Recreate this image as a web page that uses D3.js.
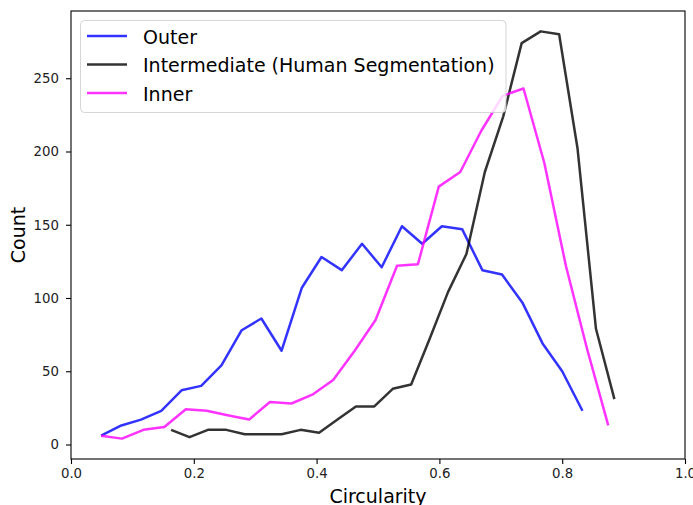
<!DOCTYPE html>
<html>
<head>
<meta charset="utf-8">
<script src="https://d3js.org/d3.v7.min.js"></script>
<style>
  body { margin: 0; background: #fff; }
  svg { display: block; font-family: "DejaVu Sans", sans-serif; }
</style>
</head>
<body>
<svg id="chart" width="693" height="505"></svg>
<script>
// bin centres (each series has its own bins)
var outerX = [0.049, 0.082, 0.114, 0.147, 0.180, 0.212, 0.245, 0.278, 0.310, 0.343, 0.376, 0.408, 0.441,
              0.474, 0.506, 0.539, 0.572, 0.604, 0.637, 0.670, 0.702, 0.735, 0.768, 0.800, 0.833];
var outerCount = [6, 13, 17, 23, 37, 40, 54, 78, 86, 64, 107, 128, 119,
                  137, 121, 149, 137, 149, 147, 119, 116, 97, 69, 50, 23];

var interX = [0.163, 0.193, 0.223, 0.253, 0.283, 0.313, 0.343, 0.374, 0.404, 0.434, 0.464, 0.494, 0.524,
              0.554, 0.584, 0.614, 0.644, 0.674, 0.704, 0.734, 0.765, 0.795, 0.825, 0.855, 0.885];
var interCount = [10, 5, 10, 10, 7, 7, 7, 10, 8, 17, 26, 26, 38,
                  41, 72, 104, 130, 186, 224, 274, 282, 280, 202, 79, 31];

var innerX = [0.049, 0.083, 0.118, 0.152, 0.187, 0.221, 0.255, 0.290, 0.324, 0.359, 0.393, 0.427, 0.462,
              0.496, 0.531, 0.565, 0.599, 0.634, 0.668, 0.703, 0.737, 0.771, 0.806, 0.840, 0.875];
var innerCount = [6, 4, 10, 12, 24, 23, 20, 17, 29, 28, 34, 44, 64,
                  85, 122, 123, 176, 186, 214, 238, 243, 192, 122, 66, 13];

var xTicks = [0, 0.2, 0.4, 0.6, 0.8, 1.0];
var yTicks = [0, 50, 100, 150, 200, 250];

var seriesNames = ["Outer", "Intermediate (Human Segmentation)", "Inner"];
var seriesColors = ["blue", "black", "magenta"];

var series = [
  {name: seriesNames[0], color: seriesColors[0], xs: outerX, ys: outerCount},
  {name: seriesNames[1], color: seriesColors[1], xs: interX, ys: interCount},
  {name: seriesNames[2], color: seriesColors[2], xs: innerX, ys: innerCount}
];

// plot box in pixels (note: "top" is reserved on window, so prefix these)
var plotL = 71, plotR = 685, plotT = 11, plotB = 459;
var svg = d3.select("#chart");

var x = d3.scaleLinear().domain([0, 1]).range([plotL, plotR]);
var y = d3.scaleLinear().domain([-9.9, 295.9]).range([plotB, plotT]);

// axes
var xAxis = svg.append("g")
  .attr("transform", "translate(0," + plotB + ")")
  .call(d3.axisBottom(x).tickValues(xTicks).tickFormat(d3.format(".1f"))
    .tickSize(5).tickPadding(5).tickSizeOuter(0));
var yAxis = svg.append("g")
  .attr("transform", "translate(" + plotL + ",0)")
  .call(d3.axisLeft(y).tickValues(yTicks).tickSize(5).tickPadding(7).tickSizeOuter(0));

[xAxis, yAxis].forEach(function(a) {
  a.select(".domain").remove();
  a.selectAll("line").attr("stroke", "#000").attr("stroke-width", 1.1);
  a.selectAll("text").attr("fill", "#222").style("font-size", "13.3px")
    .style("font-family", "DejaVu Sans");
});

// lines
var line = d3.line()
  .x(function(d) { return x(d[0]); })
  .y(function(d) { return y(d[1]); });

series.forEach(function(s) {
  svg.append("path")
    .datum(d3.zip(s.xs, s.ys))
    .attr("fill", "none")
    .attr("stroke", s.color)
    .attr("stroke-opacity", 0.8)
    .attr("stroke-width", 2.5)
    .attr("stroke-linejoin", "round")
    .attr("d", line);
});

// frame
svg.append("rect")
  .attr("x", plotL).attr("y", plotT)
  .attr("width", plotR - plotL).attr("height", plotB - plotT)
  .attr("fill", "none").attr("stroke", "#000").attr("stroke-width", 1.1);

// axis labels
svg.append("text")
  .attr("x", (plotL + plotR) / 2).attr("y", 503)
  .attr("text-anchor", "middle").style("font-size", "19px")
  .text("Circularity");
svg.append("text")
  .attr("transform", "translate(25," + (plotT + plotB) / 2 + ") rotate(-90)")
  .attr("text-anchor", "middle").style("font-size", "19px")
  .text("Count");

// legend
var legend = svg.append("g");
legend.append("rect")
  .attr("x", 80.5).attr("y", 20.5).attr("width", 425.5).attr("height", 92)
  .attr("rx", 4).attr("fill", "#fff").attr("fill-opacity", 0.8)
  .attr("stroke", "#ccc").attr("stroke-opacity", 0.8);

var rowY = [36, 64.5, 93];
series.forEach(function(s, i) {
  legend.append("line")
    .attr("x1", 87).attr("x2", 127)
    .attr("y1", rowY[i]).attr("y2", rowY[i])
    .attr("stroke", s.color).attr("stroke-opacity", 0.8).attr("stroke-width", 2.5);
  legend.append("text")
    .attr("x", 143).attr("y", rowY[i] + 7.5)
    .style("font-size", "19px").attr("fill", "#000")
    .text(s.name);
});
</script>
</body>
</html>
